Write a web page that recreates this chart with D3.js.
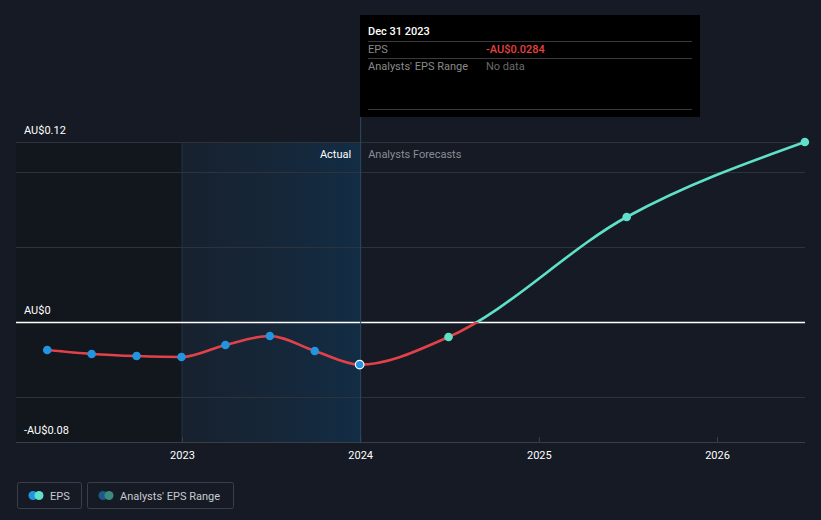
<!DOCTYPE html>
<html><head><meta charset="utf-8">
<script src="https://cdn.jsdelivr.net/npm/d3@7"></script>
<style>
html,body{margin:0;padding:0;background:#151a24;}
svg{display:block;font-family:Roboto,"Noto Sans",sans-serif;}
</style></head>
<body>
<svg id="c" width="821" height="520"></svg>
<script>
const dates = ["2022-03-31","2022-06-30","2022-09-30","2022-12-31","2023-03-31","2023-06-30","2023-09-30","2023-12-31","2024-06-30","2025-06-30","2026-06-30"];
const eps = [-0.0187,-0.0213,-0.0227,-0.0233,-0.0153,-0.0093,-0.0193,-0.0284,-0.0100,0.0700,0.1200];
const isForecast = [false,false,false,false,false,false,false,false,true,true,true];
const yTicks = [-0.08,0,0.12];
const yTickLabels = ["-AU$0.08","AU$0","AU$0.12"];
const gridVals = [-0.05,0.05,0.1];
const xTickYears = [2023,2024,2025,2026];
const tooltipTitle = "Dec 31 2023";
const tooltipRows = [["EPS","-AU$0.0284"],["Analysts' EPS Range","No data"]];

const parse = d3.timeParse("%Y-%m-%d");
const data = dates.map((d,i)=>({date:parse(d),v:eps[i],f:isForecast[i]}));

const svg = d3.select("#c");
const W=821,H=520;
const pL=16,pR=805,pT=142,pB=442;
const x = d3.scaleTime().domain([new Date(2022,0,1), new Date(2026,0,1)]).range([3.8,717]);
const y = d3.scaleLinear().domain([-0.08,0.12]).range([pB,pT]);

svg.append("rect").attr("width",W).attr("height",H).attr("fill","#151a24");

const x2023 = x(new Date(2023,0,1)), x2024 = x(new Date(2024,0,1));
svg.append("rect").attr("x",pL).attr("y",pT).attr("width",x2023-pL).attr("height",pB-pT).attr("fill","#12161d");

const defs = svg.append("defs");
const sg = defs.append("linearGradient").attr("id","shade").attr("x1","0").attr("x2","1").attr("y1","0").attr("y2","0");
sg.append("stop").attr("offset","0").attr("stop-color","#1a2a3c").attr("stop-opacity",0.45);
sg.append("stop").attr("offset","1").attr("stop-color","#12304a").attr("stop-opacity",0.85);
svg.append("rect").attr("x",x2023).attr("y",pT).attr("width",x2024-x2023).attr("height",pB-pT).attr("fill","url(#shade)");
svg.append("line").attr("x1",x2023).attr("x2",x2023).attr("y1",pT).attr("y2",pB).attr("stroke","#1f3347").attr("stroke-width",1);

svg.append("g").selectAll("line").data(gridVals.concat([0.12])).join("line")
  .attr("x1",pL).attr("x2",pR).attr("y1",d=>Math.round(y(d))+0.5).attr("y2",d=>Math.round(y(d))+0.5)
  .attr("stroke","#2e323b").attr("stroke-width",1);
svg.append("line").attr("x1",pL).attr("x2",pR).attr("y1",pB+0.5).attr("y2",pB+0.5).attr("stroke","#3a3e47");
svg.append("line").attr("x1",pL).attr("x2",pR).attr("y1",Math.round(y(0))+0.5).attr("y2",Math.round(y(0))+0.5).attr("stroke","#ffffff").attr("stroke-width",1.3);

svg.append("g").selectAll("text").data(yTicks).join("text")
  .attr("x",24).attr("y",(d)=>y(d)-8).attr("fill","#ffffff").attr("font-size",11)
  .text((d,i)=>yTickLabels[i]);

const xAxis = d3.axisBottom(x).tickValues(xTickYears.map(yy=>new Date(yy,0,1))).tickFormat(d3.timeFormat("%Y")).tickSize(0).tickPadding(9);
const gx = svg.append("g").attr("transform",`translate(0,${pB})`).call(xAxis);
gx.select(".domain").remove();
gx.selectAll("text").attr("fill","#ffffff").attr("font-size",11).attr("font-family","Roboto,sans-serif");
gx.selectAll(".tick").append("line").attr("y1",0).attr("y2",-5).attr("stroke","#3a3e47");

svg.append("text").attr("x",x2024-9).attr("y",158).attr("text-anchor","end").attr("fill","#ffffff").attr("font-size",11).text("Actual");
svg.append("text").attr("x",x2024+8).attr("y",158).attr("fill","#8a8d93").attr("font-size",11).text("Analysts Forecasts");

const zeroY = y(0);
const lg = defs.append("linearGradient").attr("id","lineGrad").attr("gradientUnits","userSpaceOnUse")
  .attr("x1",0).attr("x2",0).attr("y1",pT).attr("y2",pB);
const off = (zeroY-pT)/(pB-pT);
lg.append("stop").attr("offset",off).attr("stop-color","#5fe0c9");
lg.append("stop").attr("offset",off).attr("stop-color","#e24148");

const line = d3.line().x(d=>x(d.date)).y(d=>y(d.v)).curve(d3.curveMonotoneX);
svg.append("path").datum(data).attr("d",line).attr("fill","none").attr("stroke","url(#lineGrad)").attr("stroke-width",2.6);

svg.append("line").attr("x1",x2024+0.5).attr("x2",x2024+0.5).attr("y1",15).attr("y2",pB).attr("stroke","#2e4a66").attr("stroke-width",1);

svg.append("g").selectAll("circle").data(data).join("circle")
  .attr("cx",d=>x(d.date)).attr("cy",d=>y(d.v)).attr("r",4.3)
  .attr("fill",d=>d.f?"#5fe0c9":"#2394df")
  .attr("stroke",(d,i)=>dates[i]==="2023-12-31"?"#ffffff":"none").attr("stroke-width",1.2);

const tt = svg.append("g").attr("transform","translate(360,15)");
tt.append("rect").attr("width",340).attr("height",102).attr("fill","#000000");
tt.append("text").attr("x",8).attr("y",20).attr("fill","#ffffff").attr("font-size",11).attr("font-weight",500).text(tooltipTitle);
[26,43,94].forEach(yy=>tt.append("line").attr("x1",8).attr("x2",332).attr("y1",yy+0.5).attr("y2",yy+0.5).attr("stroke","#3a3a3a"));
tooltipRows.forEach((r,i)=>{
  tt.append("text").attr("x",8).attr("y",38+i*17).attr("fill","#8a8a8a").attr("font-size",11).text(r[0]);
  tt.append("text").attr("x",126).attr("y",38+i*17).attr("fill",i===0?"#e8413f":"#6a6a6a").attr("font-size",11).attr("font-weight",i===0?500:400).text(r[1]);
});

const lgd = svg.append("g");
const items = [{label:"EPS",x:17,w:64,c1:"#2394df",c2:"#5fe0c9"},{label:"Analysts' EPS Range",x:87,w:146,c1:"#1e5a87",c2:"#3b8a80"}];
items.forEach(it=>{
  const g = lgd.append("g").attr("transform",`translate(${it.x},482)`);
  g.append("rect").attr("x",0.5).attr("y",0.5).attr("width",it.w).attr("height",26).attr("rx",2).attr("fill","none").attr("stroke","#3a3e48");
  g.append("circle").attr("cx",16).attr("cy",13.5).attr("r",4.5).attr("fill",it.c1);
  g.append("circle").attr("cx",22).attr("cy",13.5).attr("r",4.5).attr("fill",it.c2);
  g.append("text").attr("x",33).attr("y",17.5).attr("fill","#c8cacf").attr("font-size",11).text(it.label);
});
</script>
</body></html>
